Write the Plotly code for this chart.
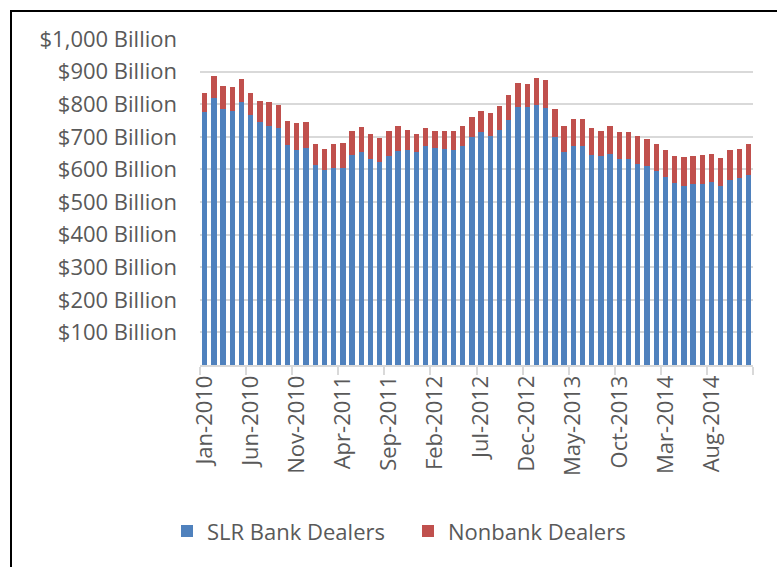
import plotly.graph_objects as go

# Monthly repo exposure, Jan 2010 - Dec 2014 ($ billions)
month_names = ["Jan", "Feb", "Mar", "Apr", "May", "Jun",
               "Jul", "Aug", "Sep", "Oct", "Nov", "Dec"]
years = [2010, 2011, 2012, 2013, 2014]
months = [f"{m}-{y}" for y in years for m in month_names]

slr_bank = [775, 818, 786, 779, 806, 767, 746, 733, 728, 675, 659, 665,
            613, 598, 605, 605, 643, 653, 631, 622, 642, 656, 660, 653,
            671, 665, 662, 659, 672, 698, 714, 702, 722, 752, 792, 790,
            799, 789, 700, 654, 672, 671, 644, 641, 647, 631, 631, 616,
            611, 594, 576, 558, 550, 555, 556, 561, 550, 568, 574, 584]

nonbank = [59, 67, 70, 74, 72, 67, 64, 74, 70, 74, 82, 79,
           65, 66, 73, 75, 74, 77, 79, 73, 75, 76, 60, 56,
           57, 54, 55, 58, 60, 63, 64, 70, 73, 76, 73, 71,
           80, 86, 84, 78, 83, 84, 82, 78, 85, 84, 84, 85,
           83, 84, 83, 84, 87, 87, 89, 87, 85, 90, 90, 93]

y_ticks = list(range(100, 1001, 100))
y_labels = [f"${v:,} Billion" for v in y_ticks]

FONT = "Open Sans, Noto Sans, DejaVu Sans, sans-serif"
TEXT = "#595959"
GRID = "#d9d9d9"

fig = go.Figure()
fig.add_trace(go.Bar(x=months, y=slr_bank, name="SLR Bank Dealers",
                     marker=dict(color="#4f81bd", line=dict(width=0))))
fig.add_trace(go.Bar(x=months, y=nonbank, name="Nonbank Dealers",
                     marker=dict(color="#c0504d", line=dict(width=0))))

fig.update_layout(
    barmode="stack",
    bargap=0.42,
    width=777, height=567, autosize=False,
    margin=dict(l=200, r=24, t=39, b=202),
    paper_bgcolor="white", plot_bgcolor="white",
    font=dict(family=FONT, size=22, color=TEXT),
    showlegend=True,
    legend=dict(orientation="h", x=(167 - 200) / 553, xanchor="left",
                y=-0.51, yanchor="middle",
                font=dict(family=FONT, size=22, color=TEXT),
                itemwidth=30, entrywidth=196, traceorder="normal"),
    shapes=[dict(type="rect", xref="paper", yref="paper",
                 x0=(11 - 200) / 553, x1=(790 - 200) / 553,
                 y0=(365 - 580) / 326, y1=(365 - 11) / 326,
                 line=dict(color="black", width=2), layer="above")],
)

fig.update_xaxes(
    type="category", tickmode="linear", tick0=0, dtick=5,
    tickson="boundaries", ticks="outside", ticklen=8,
    tickcolor=GRID, tickwidth=1.5,
    showline=True, linecolor=GRID, linewidth=1.5,
    showgrid=False, tickangle=-90,
    tickfont=dict(family=FONT, size=22, color=TEXT),
    range=[-0.5, 59.5],
)
fig.update_yaxes(
    range=[0, 1000], tickmode="array", tickvals=y_ticks, ticktext=y_labels,
    showgrid=True, gridcolor=GRID, gridwidth=1.5,
    zeroline=False, showline=False, ticks="",
    ticklabelstandoff=22,
    tickfont=dict(family=FONT, size=22, color=TEXT),
)

fig.write_html("out.html")
